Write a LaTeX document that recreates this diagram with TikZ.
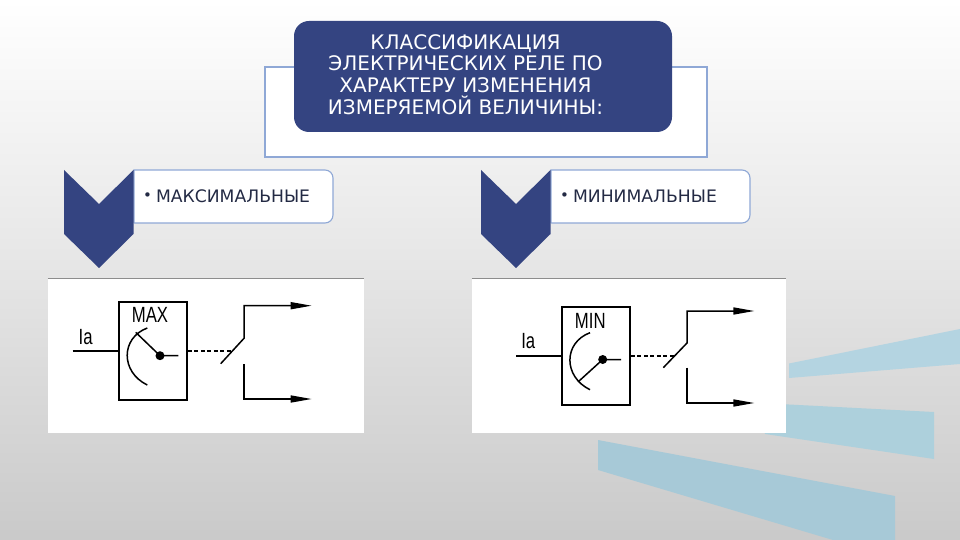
\documentclass[tikz,border=0pt]{standalone}
\usepackage{fontspec}
\setmainfont{DejaVu Sans}
\newfontfamily\relayfont{Liberation Sans}
\usetikzlibrary{arrows.meta}
\definecolor{navy}{HTML}{344481}
\definecolor{frameblue}{HTML}{8FA8D6}
\definecolor{inktext}{HTML}{232A44}
\definecolor{stripeA}{HTML}{B4D4E1}
\definecolor{stripeB}{HTML}{ADD0DC}
\definecolor{stripeC}{HTML}{A7C9D7}
\tikzset{
	titlebox/.style={fill=navy,rounded corners=15pt,text=white,minimum width=378pt,minimum height=111pt,inner sep=0pt},
	titletext/.style={text=white,font=\fontsize{20}{21.8}\selectfont,align=center,inner sep=0pt},
	tabbox/.style={draw=frameblue,fill=white,line width=1.1pt},
	tabtext/.style={text=inktext,font=\fontsize{17.2}{18}\selectfont,anchor=west,inner sep=0pt},
	chevron/.style={fill=navy},
	picbox/.style={fill=white,inner sep=0pt},
	relaybox/.style={draw,line width=1.5pt,minimum width=68pt,minimum height=98pt,inner sep=0pt},
	relaylabel/.style={font=\relayfont\fontsize{22}{22}\selectfont,xscale=.76,inner sep=0pt},
	wire/.style={line width=1.5pt},
	link/.style={line width=1.3pt,dash pattern=on 4pt off 2.5pt},
	pivot/.style={circle,fill=black,minimum size=9pt,inner sep=0pt}
}
\begin{document}
\begin{tikzpicture}[>={Triangle[length=21pt,width=7pt]},x=1pt,y=-1pt]
	\useasboundingbox (0,0) rectangle (960,540);
	% nen
	\shade[top color=white,bottom color=black!21,middle color=black!10] (0,0) rectangle (960,540);
	\fill[stripeA] (789,363.5) -- (960,329) -- (960,364) -- (789,378) -- cycle;
	\fill[stripeB] (760,403) -- (934,412) -- (934,459) -- (765,434) -- cycle;
	\fill[stripeC] (598,440) -- (895,496) -- (895,540) -- (833,540) -- (598,470) -- cycle;
	% tieu de
	\draw[draw=frameblue,fill=white,line width=1.1pt] (265,67) rectangle (707,157);
	\node[titlebox] (title) at (483,76.5) {};
	\node[titletext] (titlelabel) at (465.5,74.5) {КЛАССИФИКАЦИЯ\\ЭЛЕКТРИЧЕСКИХ РЕЛЕ ПО\\ХАРАКТЕРУ ИЗМЕНЕНИЯ\\ИЗМЕРЯЕМОЙ ВЕЛИЧИНЫ:};
	% nhan trai
	\draw[tabbox] (134,223) -- (134,170) [rounded corners=8pt] -- (333,170) -- (333,223) [sharp corners] -- (134,223);
	\fill[chevron] (64,170) -- (99,204) -- (133.5,170) -- (133.5,234) -- (99,268) -- (64,234) -- cycle;
	\node[tabtext] (maxlabel) at (143,196) {\raisebox{.2ex}{\fontsize{15}{15}\selectfont•}\hspace{4pt}МАКСИМАЛЬНЫЕ};
	% nhan phai
	\draw[tabbox] (551,223) -- (551,170) [rounded corners=8pt] -- (750,170) -- (750,223) [sharp corners] -- (551,223);
	\fill[chevron] (481,170) -- (516,204) -- (550.5,170) -- (550.5,234) -- (516,268) -- (481,234) -- cycle;
	\node[tabtext] (minlabel) at (560,196) {\raisebox{.2ex}{\fontsize{15}{15}\selectfont•}\hspace{4pt}МИНИМАЛЬНЫЕ};
	% ro le MAX
	\node[picbox,minimum width=316pt,minimum height=155pt] (picmax) at (206,355.5) {};
	\draw[black!45] (picmax.north west) -- (picmax.north east);
	\node[relaybox] (relaymax) at (153,351) {};
	\node[relaylabel] at (150,315) {MAX};
	\node[relaylabel] at (85.7,337) {Ia};
	\coordinate (inmax) at (72.7,351);
	\coordinate (swmax) at (233,351);
	\node[pivot] (pivotmax) at (160,355.7) {};
	\draw[wire] (inmax) -- (relaymax.west);
	\draw[wire] (135.7,332.3) -- (pivotmax.center) -- (178.3,355.7);
	\draw[wire] (147.3,328) .. controls (120.5,338) and (120.5,372) .. (147.3,385);
	\draw[link] (relaymax.east) -- (swmax);
	\draw[wire,->] (220.7,363.7) -- (244,338.3) -- (244,305.7) -- (311.7,305.7);
	\draw[wire,->] (244,364) -- (244,399) -- (311.7,399);
	% ro le MIN
	\node[picbox,minimum width=314pt,minimum height=155pt] (picmin) at (629,355.5) {};
	\draw[black!45] (picmin.north west) -- (picmin.north east);
	\node[relaybox] (relaymin) at (596,356) {};
	\node[relaylabel] at (590.3,320.7) {MIN};
	\node[relaylabel] at (528.3,341) {Ia};
	\coordinate (inmin) at (516,356);
	\coordinate (swmin) at (676,356);
	\node[pivot] (pivotmin) at (602.7,359.5) {};
	\draw[wire] (inmin) -- (relaymin.west);
	\draw[wire] (578.3,381.7) -- (pivotmin.center) -- (621,359.5);
	\draw[wire] (590,332.7) .. controls (563.2,342.7) and (563.2,376.7) .. (590,389.7);
	\draw[link] (relaymin.east) -- (swmin);
	\draw[wire,->] (663.3,367.7) -- (687,343) -- (687,311) -- (754.4,311);
	\draw[wire,->] (687,367.7) -- (687,403) -- (754.4,403);
\end{tikzpicture}
\end{document}
